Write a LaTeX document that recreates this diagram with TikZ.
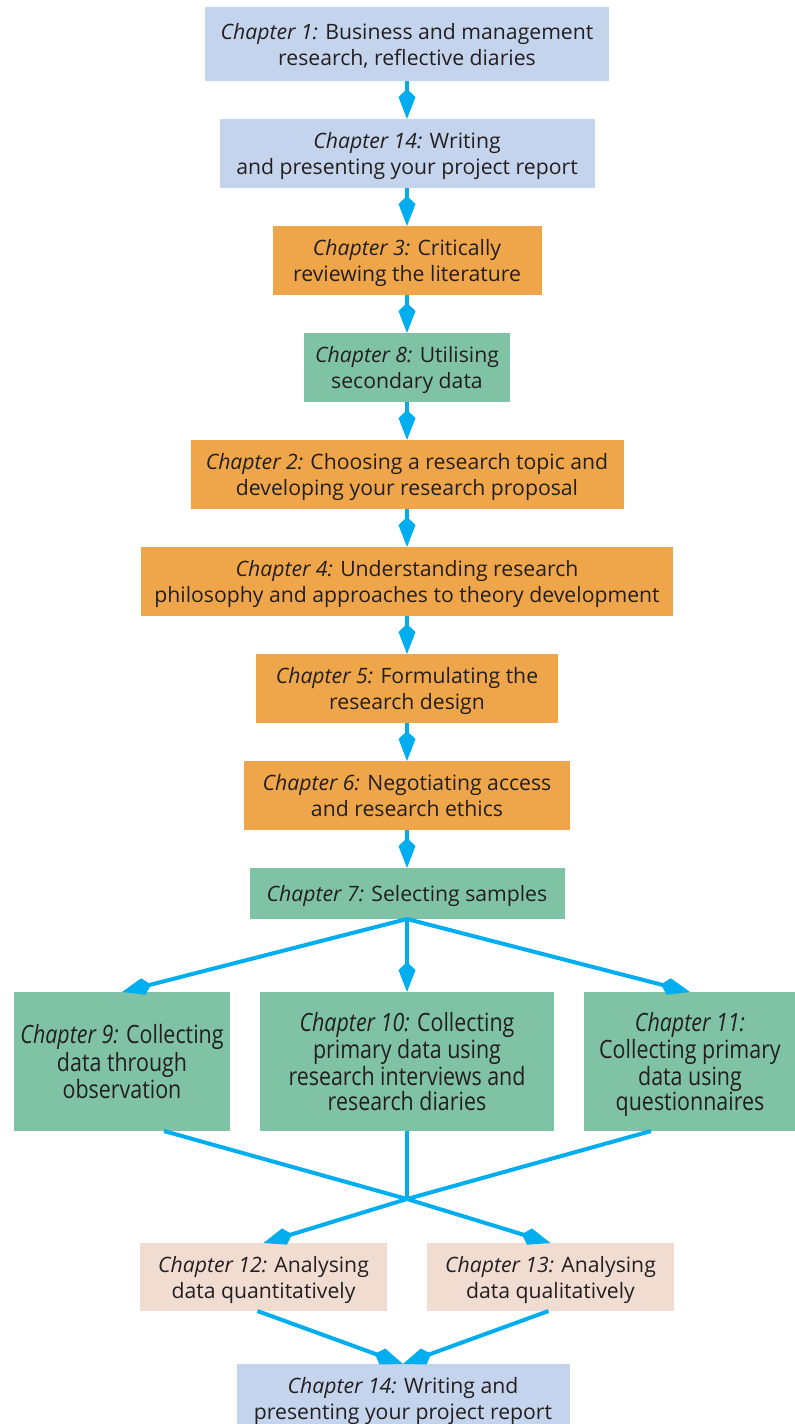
\documentclass[tikz,border=0pt]{standalone}
\usepackage{fontspec}
\setmainfont{Open Sans}
\newfontfamily\narrowfont{Open Sans}[FakeStretch=0.85]
\usetikzlibrary{positioning,calc,arrows.meta}

\definecolor{boxblue}{RGB}{197,212,237}
\definecolor{boxorange}{RGB}{239,166,75}
\definecolor{boxgreen}{RGB}{127,194,166}
\definecolor{boxpink}{RGB}{241,220,210}
\definecolor{flowblue}{RGB}{0,174,239}
\definecolor{inkgray}{RGB}{35,31,32}

\newcommand{\chapno}[1]{\textit{Chapter #1:}}

\tikzset{
  chapbox/.style={fill=#1,text=inkgray,align=center,inner sep=2pt,outer sep=0pt,
    minimum height=34.5pt,font=\fontsize{10.6}{13}\selectfont,text depth=-3.5pt},
  widebox/.style={chapbox=boxgreen,minimum height=69.5pt,
    font=\narrowfont\fontsize{12.6}{12.3}\selectfont},
  flow/.style={draw=flowblue,line width=2pt,
    -{Kite[length=15pt,width=8.5pt,inset=4pt]}},
  plainflow/.style={draw=flowblue,line width=2pt}
}

\begin{document}
\begin{tikzpicture}[node distance=19pt]
\useasboundingbox (0,0) rectangle (397.5pt,-712pt);

\node[chapbox=boxblue,minimum width=202pt,minimum height=37pt] (ch1) at (203.5pt,-22pt)
  {\chapno{1} Business and management\\research, reflective diaries};
\node[chapbox=boxblue,minimum width=187.5pt,below=of ch1] (ch14a)
  {\chapno{14} Writing\\and presenting your project report};
\node[chapbox=boxorange,minimum width=134.5pt,below=of ch14a] (ch3)
  {\chapno{3} Critically\\reviewing the literature};
\node[chapbox=boxgreen,minimum width=103pt,below=of ch3] (ch8)
  {\chapno{8} Utilising\\secondary data};
\node[chapbox=boxorange,minimum width=216.5pt,below=of ch8] (ch2)
  {\chapno{2} Choosing a research topic and\\developing your research proposal};
\node[chapbox=boxorange,minimum width=266pt,below=of ch2] (ch4)
  {\chapno{4} Understanding research\\philosophy and approaches to theory development};
\node[chapbox=boxorange,minimum width=151pt,below=of ch4] (ch5)
  {\chapno{5} Formulating the\\research design};
\node[chapbox=boxorange,minimum width=163pt,below=of ch5] (ch6)
  {\chapno{6} Negotiating access\\and research ethics};
\node[chapbox=boxgreen,minimum width=157.5pt,minimum height=25.5pt,below=of ch6] (ch7)
  {\chapno{7} Selecting samples};

% three ways of collecting data
\node[widebox,minimum width=147pt,below=36.5pt of ch7] (ch10)
  {\chapno{10} Collecting\\primary data using\\research interviews and\\research diaries};
\node[widebox,minimum width=108pt,left=15pt of ch10] (ch9)
  {\chapno{9} Collecting\\data through\\observation};
\node[widebox,minimum width=106pt,right=15pt of ch10] (ch11)
  {\chapno{11}\\Collecting primary\\data using\\questionnaires};

\node[chapbox=boxpink,minimum width=123.5pt,minimum height=34pt,
  below left=56pt and 10pt of ch10.south] (ch12)
  {\chapno{12} Analysing\\data quantitatively};
\node[chapbox=boxpink,minimum width=123.5pt,minimum height=34pt,
  below right=56pt and 10pt of ch10.south] (ch13)
  {\chapno{13} Analysing\\data qualitatively};

\coordinate (mid) at (ch12.south -| ch10.south);
\node[chapbox=boxblue,minimum width=166.5pt,below=26.5pt of mid,xshift=-2pt] (ch14b)
  {\chapno{14} Writing and\\presenting your project report};

\foreach \a/\b in {ch1/ch14a,ch14a/ch3,ch3/ch8,ch8/ch2,ch2/ch4,ch4/ch5,ch5/ch6,ch6/ch7}
  \draw[flow] (\a) -- (\b);

\draw[flow] (ch7.south) -- (ch9.north);
\draw[flow] (ch7.south) -- (ch10.north);
\draw[flow] (ch7.south) -- (ch11.north);

\coordinate (cross) at ($(ch10.south)+(0,-34pt)$);
\draw[plainflow] (ch10.south) -- (cross);
\draw[flow] ($(ch9.south)+(21pt,0)$) -- (cross) -- (ch13.north);
\draw[flow] ($(ch11.south)+(-19.5pt,0)$) -- (cross) -- (ch12.north);

\draw[flow] ($(ch12.south)+(-3pt,0)$) -- (ch14b.north);
\draw[flow] ($(ch13.south)+(-1pt,0)$) -- (ch14b.north);
\end{tikzpicture}
\end{document}
